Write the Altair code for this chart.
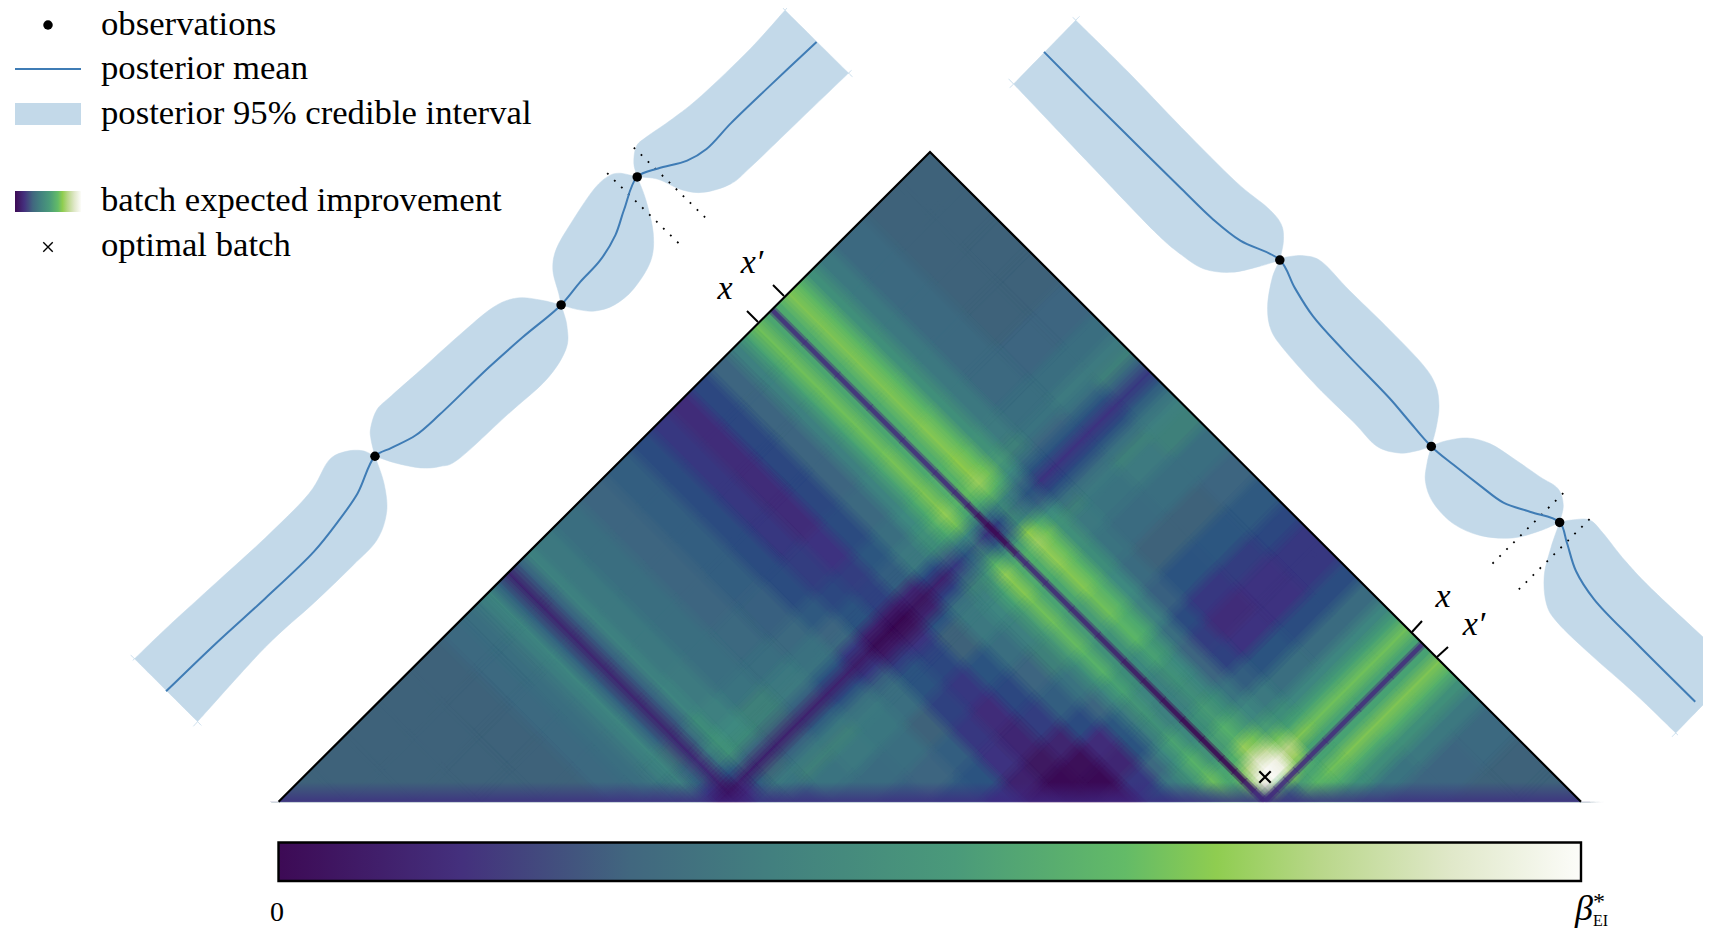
import altair as alt
import pandas as pd

SERIF = "Liberation Serif"
BAND = "#c3d9e9"
MEAN = "#3f7cb5"

# ---- heat map values (percent of colour bar) ----
EDGES = [0, .05, .10, .15, .20, .25, .28, .30, .315, .33, .345, .36, .375, .39, .42, .46, .50, .54, .57, .60,
         .63, .66, .69, .71, .725, .74, .752, .762, .775, .79, .805, .825, .85, .90, .95, 1.0]
ROWS = [
 [27],
 [27,27],
 [27,27,27],
 [27,27,27,27],
 [27,27,27,27,27],
 [29,29,29,29,29,28],
 [31,31,31,31,31,31,28],
 [36,36,36,36,36,36,33,28],
 [42,42,42,42,42,42,40,36,26],
 [25,25,25,25,25,27,26,25,16,0],
 [11,11,11,11,11,12,13,13,10,0,4],
 [26,26,26,26,26,30,36,34,22,10,14,24],
 [41,41,41,41,42,46,50,50,30,10,24,30,26],
 [36,36,36,36,37,40,44,45,28,10,27,36,33,26],
 [31,31,31,31,32,34,38,39,27,10,26,36,38,34,30],
 [28,28,28,28,29,31,36,37,26,10,24,35,38,36,30,26],
 [25,25,25,25,26,29,33,34,22,10,21,32,36,35,31,28,24],
 [20,20,20,20,21,24,28,29,16,8,16,26,31,31,27,25,22,16],
 [16,16,16,16,17,19,22,22,10,2,8,17,22,22,18,16,15,10,4],
 [14,14,14,14,15,17,18,18,8,0,6,15,18,19,16,14,12,6,1,0],
 [19,19,19,19,20,23,25,25,12,5,11,22,27,27,22,19,17,11,3,1,4],
 [28,28,28,28,29,32,36,36,20,10,18,32,36,36,32,28,25,20,14,12,16,22],
 [40,40,40,40,41,44,48,46,28,16,26,38,40,42,40,38,34,28,23,22,29,36,34],
 [56,56,56,56,57,59,62,58,36,22,32,48,54,56,54,52,47,42,37,36,44,50,52,46],
 [68,68,68,68,69,70,73,68,44,28,38,64,73,71,68,66,63,56,51,49,57,63,67,63,56],
 [58,58,58,58,59,60,62,56,34,16,24,50,60,60,56,54,50,46,42,40,44,50,56,56,54,44],
 [59,59,59,59,60,62,64,57,34,14,24,52,61,60,57,54,50,45,41,40,45,52,58,66,70,68,30],
 [60,60,60,60,61,63,66,58,34,20,28,54,62,60,58,54,50,44,40,40,46,54,62,78,92,96,70,30],
 [70,70,70,70,71,72,74,66,45,38,45,72,75,73,71,68,64,56,50,48,54,62,74,88,100,100,62,30,32],
 [64,64,64,64,65,66,68,60,40,30,36,60,68,66,64,62,58,50,44,42,46,54,68,82,96,95,72,52,60,48],
 [48,48,48,48,48,50,52,44,30,22,26,44,50,48,46,44,40,32,28,28,34,42,54,68,80,74,64,56,64,58,46],
 [36,36,36,36,36,37,38,31,22,15,20,32,38,36,34,30,26,20,17,18,25,36,46,56,70,56,56,56,68,60,46,36],
 [29,29,29,29,29,31,34,28,22,15,20,30,36,34,30,27,22,16,14,15,22,32,42,56,68,56,56,56,70,60,47,34,28],
 [27,27,27,27,28,31,37,32,22,15,21,32,39,37,31,27,23,17,15,15,21,30,42,56,68,56,56,56,70,62,48,36,28,27],
 [27,27,27,27,28,31,37,38,26,16,24,34,40,38,32,28,24,19,16,16,21,30,42,56,68,56,56,56,70,62,48,36,29,27,27],
]
# thin troughs at the last observation: along the left-leg line (by column) and the right-leg line (by row)
TROUGH_POS = 0.757
TROUGH_A = [14,14,14,14,14,13,12,8,3,0,1,6,12,12,12,11,9,6,4,2,0,0,0,2,6,10,8]
TROUGH_B = [12,14,14,14,14,14,14,14]
STOP_VALUES = [0, 14, 27, 38, 52, 65, 72, 80, 90, 100]
STOP_COLORS = ["#3d0a55", "#44307d", "#41677f", "#42807f", "#4a9a7a", "#63bb67",
               "#8fcd50", "#b9d78a", "#e0e8c9", "#fcfcf9"]

# ---- left Gaussian-process ribbon, crop units ----
LB_X = [30,100,200,300,390,430,465,500,526,518,517,530,560,620,700,770,820,870,910,905,893,900,930,975,1005,1030,1067,
        1060,1065,1085,1140,1200,1300,1372,1503,1400,1300,1260,1205,1160,1110,1067,1085,1100,1095,1060,1020,980,945,910,
        922,920,880,800,700,660,620,570,526,545,550,530,480,400,300,160]
LB_Y = [1415,1345,1250,1155,1060,990,970,968,980,945,920,880,850,795,720,660,640,645,655,630,580,535,480,410,380,372,380,
        350,315,295,255,205,105,22,157,260,360,395,413,408,385,380,430,500,560,620,655,668,665,655,
        700,750,815,890,985,1002,1005,995,980,1040,1100,1160,1215,1295,1390,1550]
L_SHARP = [(30,1415),(526,980),(910,655),(1067,380),(1372,22),(1503,157),(160,1550)]
LM_X = [95,200,300,400,450,490,526,560,610,660,760,830,910,950,990,1022,1040,1067,1110,1170,1210,1260,1340,1437]
LM_Y = [1485,1380,1285,1185,1120,1060,980,962,935,890,790,725,655,605,560,505,450,380,362,345,320,265,185,90]
LOBS_X = [526,910,1067]
LOBS_Y = [980,655,380]
LDOT1_X = [1060,1210]
LDOT1_Y = [317,470]
LDOT2_X = [1005,1155]
LDOT2_Y = [372,525]

# ---- right ribbon, crop units ----
RB_X = [167,280,400,520,590,620,625,617,630,670,710,770,850,930,960,968,962,951,980,1030,1080,1130,1190,1230,1242,1234,
        1260,1300,1330,1380,1450,1627,1490,1400,1300,1230,1205,1200,1215,1234,1190,1130,1060,1000,955,938,942,951,
        920,880,830,780,700,630,598,590,600,617,570,510,450,400,340,200,30]
RB_Y = [43,150,270,385,440,475,510,551,545,542,555,615,690,770,815,860,905,946,935,928,940,970,1010,1035,1070,1107,
        1102,1102,1130,1190,1260,1418,1553,1470,1385,1320,1280,1220,1160,1107,1125,1140,1135,1110,1065,1020,980,946,
        955,960,945,895,820,745,700,650,590,551,565,577,570,540,490,350,178]
R_SHARP = [(167,43),(617,551),(951,946),(1234,1107),(1627,1418),(1490,1553),(30,178)]
RM_X = [97,200,300,400,470,530,617,650,690,760,860,900,951,1000,1060,1110,1170,1234,1250,1270,1310,1400,1533]
RM_Y = [110,210,305,400,465,510,551,610,670,745,845,890,946,985,1030,1065,1085,1107,1150,1210,1270,1360,1487]
ROBS_X = [617,951,1234]
ROBS_Y = [551,946,1107]
RDOT1_X = [1242,1085]
RDOT1_Y = [1045,1195]
RDOT2_X = [1300,1143]
RDOT2_Y = [1100,1250]

def lx(v): return [120 + p / 2.063 for p in v]
def ly(v): return [p / 2.148 for p in v]
def rx(v): return [1000 + p / 2.205 for p in v]
def ry(v): return [p / 2.119 for p in v]

X = alt.Scale(domain=[8, 1703], range=[0, 1695])
Y = alt.Scale(domain=[8, 929], range=[0, 921])
def ex(f="x"): return alt.X(f"{f}:Q", scale=X, axis=None, title=None)
def ey(f="y"): return alt.Y(f"{f}:Q", scale=Y, axis=None, title=None)
def ex2(f="x2"): return alt.X2(f"{f}:Q")
def ey2(f="y2"): return alt.Y2(f"{f}:Q")

def pts(xs, ys):
    return pd.DataFrame({"x": xs, "y": ys, "i": range(len(xs))})

def polygon(xs, ys, color=BAND):
    return alt.Chart(pts(xs, ys)).mark_line(interpolate="linear-closed", fill=color, stroke=color, strokeWidth=0.5).encode(
        x=ex(), y=ey(), order="i:Q")

def ribbon(bx, by, sharp, fx, fy):
    # corners and pinches keep their sharp shape through guard points right beside them
    xs, ys = [], []
    n = len(bx)
    for k in range(n):
        p = (bx[k], by[k])
        if p in sharp:
            for q, before in (((bx[k - 1], by[k - 1]), True), ((bx[(k + 1) % n], by[(k + 1) % n]), False)):
                dx, dy = q[0] - p[0], q[1] - p[1]
                d = (dx * dx + dy * dy) ** 0.5
                g = (p[0] + dx / d * 3, p[1] + dy / d * 3)
                if before:
                    xs += [g[0], p[0]]
                    ys += [g[1], p[1]]
                else:
                    xs += [g[0]]
                    ys += [g[1]]
        else:
            xs.append(p[0])
            ys.append(p[1])
    return alt.Chart(pts(fx(xs), fy(ys))).mark_line(interpolate="cardinal-closed", fill=BAND, stroke=BAND, strokeWidth=0.5,
                                                    strokeJoin="round").encode(x=ex(), y=ey(), order="i:Q")

def curve(xs, ys, color=MEAN, width=2, interp="catmull-rom", dash=None):
    kw = {"strokeDash": dash} if dash else {}
    return alt.Chart(pts(xs, ys)).mark_line(interpolate=interp, color=color, strokeWidth=width, **kw).encode(
        x=ex(), y=ey(), order="i:Q")

def dots(xs, ys, size=90):
    return alt.Chart(pts(xs, ys)).mark_circle(color="black", opacity=1, size=size).encode(x=ex(), y=ey())

def text(rows, size, style="normal", align="left", font=SERIF):
    d = pd.DataFrame(rows, columns=["x", "y", "t"])
    return alt.Chart(d).mark_text(font=font, fontSize=size, fontStyle=style, align=align, baseline="alphabetic",
                                  color="black").encode(x=ex(), y=ey(), text="t:N")

# triangle geometry: map (a, b) on the two legs to picture coordinates
def px(a, b): return 279 + 651 * (a + b)
def py(a, b): return 801.7 - 650 * (a - b)

HEAT_SCALE = alt.Scale(domain=STOP_VALUES, range=STOP_COLORS)
SHIFTS = [-1.5, -0.5, 0.5, 1.5]
STEP = 3.5 / 919          # one soft-edge pass step across a cell
EXT = 0.012               # cells run slightly past the legs, under the masks

def heat_rules(cells, opacity):
    return alt.Chart(pd.DataFrame(cells)).mark_rule(strokeCap="butt", opacity=opacity).encode(
        x=ex(), y=ey(), x2=ex2(), y2=ey2(),
        size=alt.Size("w:Q", scale=None, legend=None),
        color=alt.Color("v:Q", scale=HEAT_SCALE, legend=None))

def seg(a0, b0, a1, b1, w, v):
    return {"x": round(px(a0, b0), 1), "y": round(py(a0, b0), 1),
            "x2": round(px(a1, b1), 1), "y2": round(py(a1, b1), 1), "w": w, "v": v}

def heat_pass(da, db, opacity):
    n = len(ROWS)
    cells = []
    for i, row in enumerate(ROWS):
        a0 = EDGES[i]
        a1 = EDGES[i + 1] + (EXT if i == n - 1 else 0)
        ac = (a0 + a1) / 2 + da
        w = round((a1 - a0) * 650 * 2 ** 0.5 + 1.2, 1)
        for j, v in enumerate(row):
            b0 = EDGES[j] - (EXT if j == 0 else 0) + db
            b1 = EDGES[j + 1] + (EXT if j == i else 0.0012) + db
            cells.append(seg(ac, b0, ac, b1, w, v))
    return heat_rules(cells, opacity)

heat_layers = []
k = 0
for sa in SHIFTS:
    for sb in SHIFTS:
        k += 1
        heat_layers.append(heat_pass(sa * STEP, sb * STEP, round(1 / k, 4)))

def trough_pass(width, opacity):
    cells = []
    for j, v in enumerate(TROUGH_A):
        b0 = EDGES[j]
        b1 = min(EDGES[j + 1] + 0.001, TROUGH_POS)
        cells.append(seg(TROUGH_POS, b0, TROUGH_POS, b1, width, v))
    for m, v in enumerate(TROUGH_B):
        a0 = EDGES[27 + m] if m else TROUGH_POS
        a1 = EDGES[28 + m] + 0.001
        cells.append(seg(a0, TROUGH_POS, a1, TROUGH_POS, width, v))
    return heat_rules(cells, opacity)

STRIP = alt.LinearGradient(gradient="linear", x1=0, x2=0, y1=0, y2=1,
                           stops=[alt.GradientStop(offset=0, color="rgba(62,40,130,0)"),
                                  alt.GradientStop(offset=1, color="rgba(62,40,130,0.75)")])
strip = alt.Chart(pd.DataFrame({"x": [270], "x2": [1590], "y": [782], "y2": [802]})).mark_rect(color=STRIP).encode(
    x=ex(), x2=ex2(), y=ey(), y2=ey2())

mask_bottom = polygon([240, 1620, 1620, 240], [802.4, 802.4, 900, 900], "white")
mask_left = polygon([278.6, 930, 930, 235], [801.7, 152, 108, 801.7], "white")
mask_right = polygon([930, 1581, 1625, 930], [152, 801.7, 801.7, 108], "white")
legs = curve([278.6, 930, 1581], [801.7, 152, 801.7], "black", 2.2, "linear")

def tick(x0, y0, x1, y1):
    return curve([x0, x1], [y0, y1], "black", 2, "linear")

GRAD = alt.LinearGradient(gradient="linear",
                          stops=[alt.GradientStop(offset=v / 100, color=c) for v, c in zip(STOP_VALUES, STOP_COLORS)],
                          x1=0, x2=1, y1=0, y2=0)

def grad_rect(x0, x1, y0, y1, **kw):
    d = pd.DataFrame({"x": [x0], "x2": [x1], "y": [y0], "y2": [y1]})
    return alt.Chart(d).mark_rect(color=GRAD, **kw).encode(x=ex(), x2=ex2(), y=ey(), y2=ey2())

def flat_rect(x0, x1, y0, y1, color):
    d = pd.DataFrame({"x": [x0], "x2": [x1], "y": [y0], "y2": [y1]})
    return alt.Chart(d).mark_rect(color=color).encode(x=ex(), x2=ex2(), y=ey(), y2=ey2())

def cross(x0, y0, size, width):
    d = pd.DataFrame({"x": [x0], "y": [y0]})
    return alt.Chart(d).mark_point(shape="M-1,-1L1,1M-1,1L1,-1", size=size, stroke="black", strokeWidth=width,
                                   filled=False, opacity=1).encode(x=ex(), y=ey())

LEGEND = [(101, 35, "observations"), (101, 79, "posterior mean"), (101, 124, "posterior 95% credible interval"),
          (101, 211, "batch expected improvement"), (101, 256, "optimal batch")]

layers = heat_layers + [
    trough_pass(9, 0.45), trough_pass(4.5, 0.85),
    strip, mask_bottom, mask_left, mask_right,
    ribbon(LB_X, LB_Y, L_SHARP, lx, ly),
    ribbon(RB_X, RB_Y, R_SHARP, rx, ry),
    curve(lx(LDOT1_X), ly(LDOT1_Y), "black", 1.8, "linear", [1.8, 8]),
    curve(lx(LDOT2_X), ly(LDOT2_Y), "black", 1.8, "linear", [1.8, 8]),
    curve(rx(RDOT1_X), ry(RDOT1_Y), "black", 1.8, "linear", [1.8, 8]),
    curve(rx(RDOT2_X), ry(RDOT2_Y), "black", 1.8, "linear", [1.8, 8]),
    curve(lx(LM_X), ly(LM_Y)),
    curve(rx(RM_X), ry(RM_Y)),
    dots(lx(LOBS_X), ly(LOBS_Y)),
    dots(rx(ROBS_X), ry(ROBS_Y)),
    legs,
    tick(747, 311, 758, 322), tick(773, 285, 784, 296),
    tick(1422, 621, 1412, 632), tick(1448, 647, 1437, 657),
    cross(1265, 777, 130, 2.2),
    text([(725, 299, "x"), (752, 273, "x′"), (1443, 607, "x"), (1474, 635, "x′")], 34, "italic", "center"),
    grad_rect(278.5, 1581, 842.5, 881, stroke="black", strokeWidth=2.4),
    text([(277, 921, "0")], 28, "normal", "center"),
    text([(1575, 920, "β")], 36, "italic"),
    text([(1593, 909, "*")], 24),
    text([(1593, 926, "EI")], 16),
    dots([48], [25], 90),
    curve([15, 81], [69, 69], MEAN, 2, "linear"),
    flat_rect(15, 81, 103, 125, BAND),
    grad_rect(15, 81, 191, 212),
    cross(48, 247, 90, 1.4),
    text(LEGEND, 34.7),
]

chart = alt.layer(*layers).properties(
    width=1695, height=921, padding=0, autosize=alt.AutoSizeParams(type="none"),
    background="white", view=alt.ViewConfig(stroke=None)
)

chart.save("out.html", embed_options={"renderer": "svg", "actions": False})
